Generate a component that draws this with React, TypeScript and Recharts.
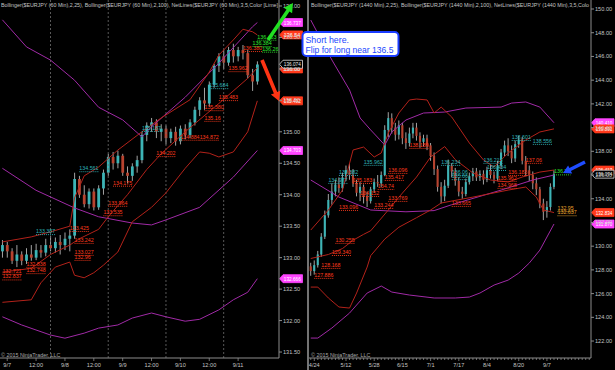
import React from "react";
import { ComposedChart, Bar, Line, XAxis, YAxis, ReferenceLine, ReferenceDot } from "recharts";

const FONT = "'Liberation Sans', Arial, sans-serif";

// ================= LEFT PANEL (60 Min) =================
// [open, high, low, close]
const leftCandles: number[][] = [
  [133.1, 133.28, 133.0, 133.2], [133.2, 133.25, 133.0, 133.1], [133.1, 133.15, 132.9, 132.95],
  [132.95, 133.2, 132.85, 133.05], [133.05, 133.1, 132.88, 132.95], [132.95, 133.15, 132.9, 133.05],
  [133.05, 133.2, 132.95, 133.0], [133.0, 133.22, 132.96, 133.12], [133.12, 133.2, 133.0, 133.08],
  [133.08, 133.3, 133.02, 133.2], [133.2, 133.35, 133.1, 133.15], [133.15, 133.32, 133.08, 133.25],
  [133.25, 133.36, 133.05, 133.2], [133.2, 133.4, 133.12, 133.3], [133.3, 133.45, 133.1, 133.35],
  [133.35, 134.35, 133.3, 134.25], [134.25, 134.3, 133.95, 134.0], [134.0, 134.15, 133.8, 133.85],
  [133.85, 134.1, 133.78, 134.05], [134.05, 134.1, 133.75, 133.8], [133.8, 134.15, 133.76, 134.1],
  [134.1, 134.4, 134.0, 134.35], [134.35, 134.65, 134.3, 134.6], [134.6, 134.68, 134.4, 134.5],
  [134.5, 134.7, 134.42, 134.62], [134.62, 134.65, 134.3, 134.35], [134.35, 134.45, 134.18, 134.3],
  [134.3, 134.5, 134.22, 134.45], [134.45, 134.62, 134.35, 134.55], [134.55, 135.0, 134.5, 134.95],
  [134.95, 135.15, 134.85, 135.1], [135.1, 135.22, 135.0, 135.15], [135.15, 135.2, 134.9, 135.0],
  [135.0, 135.12, 134.85, 135.05], [135.05, 135.1, 134.8, 134.9], [134.9, 135.05, 134.82, 135.0],
  [135.0, 135.08, 134.78, 134.85], [134.85, 135.1, 134.8, 135.05], [135.05, 135.12, 134.88, 134.95],
  [134.95, 135.2, 134.9, 135.15], [135.15, 135.4, 135.1, 135.35], [135.35, 135.55, 135.25, 135.5],
  [135.5, 135.7, 135.35, 135.45], [135.45, 135.8, 135.4, 135.75], [135.75, 136.08, 135.7, 136.05],
  [136.05, 136.25, 135.95, 136.2], [136.2, 136.3, 136.0, 136.1], [136.1, 136.35, 136.05, 136.3],
  [136.3, 136.4, 136.1, 136.2], [136.2, 136.35, 136.12, 136.3], [136.3, 136.38, 136.15, 136.25],
  [136.25, 136.3, 135.85, 135.9], [135.9, 136.0, 135.65, 135.8], [135.8, 136.12, 135.75, 136.07],
];
const leftTotal = 58;
const leftXTickIdx = [1, 7, 13, 19, 25, 31, 37, 43, 49];
const leftXTickText = ["9/7", "12:00", "9/8", "12:00", "9/9", "12:00", "9/10", "12:00", "9/11"];
const leftYTicks = [131.5, 132, 132.5, 133, 133.5, 134, 134.5, 135, 135.5, 136, 136.5, 137];
const leftSessionBreaks = [10, 22, 34, 46];
// [bar index, value]
const leftBB25Upper = [[0, 133.25], [6, 133.33], [10, 133.41], [14, 133.5], [15, 133.95], [17, 134.3], [20, 134.44], [24, 134.71], [29, 135.0], [33, 135.22], [39, 135.51], [43, 135.95], [45, 136.22], [48, 136.46], [50, 136.63], [52, 136.59], [53, 136.54]];
const leftBB25Mid = [[0, 132.77], [6, 132.83], [10, 133.05], [14, 133.2], [16, 133.3], [20, 133.45], [22, 133.65], [26, 134.0], [30, 134.4], [33, 134.65], [38, 135.0], [45, 135.45], [51, 135.85], [53, 136.02]];
const leftBB25Lower = [[0, 132.29], [6, 132.33], [8, 132.6], [11, 132.85], [14, 132.93], [15, 132.72], [17, 132.68], [19, 132.76], [21, 132.88], [24, 133.09], [27, 133.57], [31, 133.8], [34, 134.03], [38, 134.42], [41, 134.68], [43, 134.66], [45, 134.6], [48, 134.68], [51, 135.0], [53, 135.492]];
const leftBB100Upper = [[0, 136.78], [5, 136.35], [10, 136.14], [15, 135.82], [20, 135.39], [25, 135.19], [29, 134.92], [31, 135.08], [38, 135.55], [45, 136.09], [52, 136.67], [53, 136.737]];
const leftBB100Mid = [[0, 134.42], [7, 134.07], [15, 133.79], [20, 133.65], [27, 133.55], [31, 133.52], [34, 133.6], [41, 133.8], [48, 134.28], [53, 134.703]];
const leftBB100Lower = [[0, 132.06], [4, 131.93], [10, 131.77], [13, 131.72], [17, 131.8], [20, 131.88], [24, 131.93], [27, 132.04], [31, 132.12], [34, 132.06], [38, 131.99], [41, 132.02], [45, 132.17], [48, 132.33], [51, 132.45], [53, 132.666]];
// [bar index, price, text, kind]
const leftNetLabels: [number, number, string, string][] = [
  [0, 132.7, "132.837", "r"], [0, 132.79, "132.721", "r"], [5, 132.8, "132.748", "r"], [5, 132.9, "132.838", "r"],
  [7, 133.42, "133.387", "t"], [14, 133.47, "133.425", "r"], [15, 133.28, "133.242", "r"], [15, 133.09, "133.027", "r"],
  [15, 133.01, "132.96", "r"], [16, 134.42, "134.561", "t"], [21, 133.72, "133.535", "r"], [22, 133.87, "133.964", "r"],
  [23, 134.19, "134.175", "r"], [29, 135.06, "135.187", "t"], [32, 134.66, "134.202", "r"], [37, 134.92, "134.884", "r"],
  [41, 134.92, "134.872", "r"], [42, 135.22, "135.16", "r"], [42, 135.39, "135.380", "r"], [45, 135.55, "135.483", "r"],
  [43, 135.74, "135.684", "t"], [47, 136.01, "135.962", "r"], [50, 136.33, "136.380", "r"], [54, 136.32, "136.26", "g"],
  [52, 136.41, "136.384", "g"], [53, 136.51, "136.453", "g"],
];
// [value, text, kind]
const leftTags: [number, string, string][] = [
  [136.737, "136.737", "m"], [136.54, "136.54", "r"], [136.0, "136.00", "r"], [136.074, "136.074", "k"],
  [135.492, "135.492", "r"], [134.703, "134.703", "m"], [132.666, "132.666", "m"],
];

// ================= RIGHT PANEL (1440 Min) =================
const rightCandles: number[][] = [
  [128.3, 128.6, 127.5, 127.9], [127.9, 128.8, 127.6, 128.4], [128.4, 129.6, 128.2, 129.3], [129.3, 131.1, 129.1, 130.8],
  [130.8, 133.0, 130.6, 132.6], [132.6, 134.4, 132.4, 133.9], [133.9, 135.3, 133.5, 134.6], [134.6, 135.6, 134.2, 135.2],
  [135.2, 135.8, 134.5, 134.9], [134.9, 136.2, 134.6, 135.8], [135.8, 136.8, 135.5, 136.4], [136.4, 137.0, 135.6, 136.0],
  [136.0, 136.5, 135.0, 135.3], [135.3, 135.6, 134.2, 134.5], [134.5, 135.4, 133.8, 135.0], [135.0, 135.2, 133.6, 134.2],
  [134.2, 134.6, 133.3, 133.8], [133.8, 135.0, 133.6, 134.8], [134.8, 135.7, 134.5, 135.4], [135.4, 136.0, 135.0, 135.3],
  [135.3, 136.3, 135.0, 136.0], [136.0, 140.2, 135.9, 139.8], [139.8, 141.3, 139.2, 140.8], [140.8, 141.2, 139.5, 140.0],
  [140.0, 140.4, 138.9, 139.4], [139.4, 140.6, 139.0, 140.2], [140.2, 140.4, 138.6, 139.1], [139.1, 139.6, 138.2, 138.7],
  [138.7, 140.0, 138.4, 139.5], [139.5, 140.4, 139.1, 140.0], [140.0, 140.4, 138.9, 139.3], [139.3, 139.6, 138.3, 138.8],
  [138.8, 139.4, 138.4, 139.1], [139.1, 139.4, 138.1, 138.5], [138.5, 138.7, 137.2, 137.6], [137.6, 137.9, 136.0, 136.5],
  [136.5, 136.8, 134.6, 135.0], [135.0, 135.4, 133.6, 134.2], [134.2, 135.6, 133.8, 135.1], [135.1, 137.3, 134.9, 136.8],
  [136.8, 137.0, 135.8, 136.3], [136.3, 136.6, 135.1, 135.5], [135.5, 135.8, 134.2, 134.6], [134.6, 135.0, 134.0, 134.4],
  [134.4, 135.7, 134.2, 135.4], [135.4, 136.2, 135.2, 135.9], [135.9, 136.6, 135.5, 136.3], [136.3, 136.6, 135.5, 135.8],
  [135.8, 136.4, 135.5, 136.1], [136.1, 136.4, 135.2, 135.6], [135.6, 136.7, 135.4, 136.4], [136.4, 136.9, 135.7, 136.0],
  [136.0, 136.3, 135.3, 135.7], [135.7, 137.2, 135.5, 136.8], [136.8, 138.2, 136.5, 137.9], [137.9, 138.9, 137.6, 138.5],
  [138.5, 139.1, 137.6, 138.0], [138.0, 138.5, 137.0, 137.4], [137.4, 138.9, 137.1, 138.6], [138.6, 139.3, 138.3, 139.0],
  [139.0, 139.2, 136.9, 137.2], [137.2, 137.6, 135.9, 136.4], [136.4, 136.8, 135.5, 136.0], [136.0, 136.3, 134.8, 135.3],
  [135.3, 135.8, 134.3, 134.8], [134.8, 135.0, 133.2, 133.6], [133.6, 134.0, 132.2, 132.9], [132.9, 133.8, 132.4, 133.3],
  [133.3, 135.3, 133.0, 135.0], [135.0, 136.4, 134.8, 136.07],
];
const rightTotal = 80;
const rightXTickIdx = [1, 10, 18, 26, 34, 42, 50, 59, 67];
const rightXTickText = ["4/24", "5/12", "5/28", "6/15", "7/1", "7/17", "8/4", "8/20", "9/7"];
const rightYTicks = [122, 124, 126, 128, 130, 132, 134, 136, 138, 140, 142, 144, 146, 148, 150];
const rightBB25Upper = [[0, 131.36], [5, 133.05], [9, 134.73], [12, 138.11], [15, 138.36], [18, 137.52], [20, 137.86], [22, 139.54], [25, 141.23], [28, 142.33], [30, 142.41], [33, 142.33], [35, 141.23], [37, 141.73], [40, 140.89], [45, 138.7], [49, 137.27], [52, 136.67], [56, 137.86], [61, 138.95], [65, 139.63], [69, 139.891]];
const rightBB25Mid = [[0, 128.96], [5, 129.3], [9, 129.8], [12, 130.5], [15, 131.0], [17, 131.3], [22, 133.05], [26, 134.48], [30, 135.83], [34, 137.52], [38, 138.4], [41, 137.3], [46, 136.17], [51, 135.58], [56, 135.41], [60, 135.83], [65, 136.25], [69, 136.42]];
const rightBB25Lower = [[0, 126.55], [2, 126.55], [5, 125.63], [8, 124.87], [11, 124.78], [13, 126.05], [16, 128.24], [17, 129.2], [21, 130.6], [25, 131.6], [30, 132.4], [34, 133.05], [37, 133.64], [46, 134.14], [56, 134.73], [61, 134.99], [64, 134.14], [66, 133.05], [69, 132.834]];
const rightBB100Upper = [[0, 149.07], [6, 145.7], [11, 143.17], [14, 140.81], [17, 139.8], [21, 138.53], [23, 139.63], [27, 140.64], [32, 141.23], [38, 141.31], [44, 141.65], [54, 141.73], [57, 142.07], [61, 142.16], [65, 141.73], [69, 140.41]];
const rightBB100Mid = [[0, 135.58], [8, 134.14], [17, 133.05], [27, 132.9], [35, 133.0], [40, 133.5], [54, 134.73], [63, 135.58], [69, 136.0]];
const rightBB100Lower = [[0, 122.25], [2, 122.25], [6, 123.1], [11, 124.36], [16, 126.05], [20, 126.64], [23, 126.13], [28, 125.88], [35, 125.63], [41, 125.63], [45, 125.71], [48, 126.05], [52, 126.72], [56, 127.14], [59, 127.73], [62, 128.58], [65, 129.67], [69, 131.87]];
const rightNetLabels: [number, number, string, string][] = [
  [1, 127.57, "127.886", "r"], [3, 128.41, "128.168", "r"], [6, 129.5, "129.340", "r"], [7, 130.52, "130.255", "r"],
  [5, 135.58, "134.977", "t"], [8, 136.25, "135.382", "t"], [15, 137.1, "135.962", "t"], [12, 135.58, "135.183", "r"],
  [14, 134.48, "134.152", "r"], [8, 133.3, "133.096", "r"], [18, 133.47, "133.244", "r"], [19, 135.07, "134.74", "r"],
  [21, 135.83, "135.417", "r"], [22, 136.42, "136.096", "r"], [22, 134.06, "133.769", "r"], [28, 138.53, "138.189", "r"],
  [37, 137.1, "136.234", "t"], [40, 136.25, "136.06", "t"], [40, 135.9, "135.66", "t"], [40, 133.64, "133.665", "r"],
  [49, 137.27, "136.215", "t"], [50, 136.67, "136.434", "t"], [53, 135.75, "135.962", "r"], [53, 135.16, "134.968", "r"],
  [56, 136.25, "136.183", "r"], [57, 139.2, "138.601", "t"], [61, 137.27, "137.06", "r"], [63, 138.87, "138.556", "t"],
  [69, 136.3, "136.79", "g"], [70, 133.2, "132.95", "o"], [70, 132.85, "132.637", "o"],
];
const rightTags: [number, string, string][] = [
  [140.41, "140.410", "m"], [139.891, "139.891", "r"], [136.417, "136.417", "r"], [136.074, "136.074", "k"],
  [132.834, "132.834", "r"], [131.87, "131.870", "m"],
];

// ================= STYLE =================
const UP = "#3db4b6";
const DOWN = "#b8432f";
const WICK = "#b4b4b4";
const RED_BAND = "#b3221a";
const PURPLE = "#a02aa6";
const AXIS = "#8c8c8c";
const TEXT = "#c4c4c4";
const NET_COLORS: Record<string, string> = { r: "#ff3a1c", t: "#2fb3b8", g: "#2ee82e", o: "#e7a02c" };
const TAG_STYLE: Record<string, { bg: string; fg: string; border: string }> = {
  m: { bg: "#ff45ff", fg: "#ffffff", border: "#ff45ff" },
  r: { bg: "#ff3a1c", fg: "#ffffff", border: "#ff3a1c" },
  k: { bg: "#000000", fg: "#e6e6e6", border: "#dddddd" },
};

function buildRows(candles: number[][], total: number, bands: Record<string, number[][]>) {
  const rows: any[] = [];
  for (let i = 0; i < total; i++) {
    const row: any = { i };
    const c = candles[i];
    if (c) {
      row.o = c[0]; row.h = c[1]; row.l = c[2]; row.c = c[3];
      row.range = [c[2], c[1]];
    }
    rows.push(row);
  }
  Object.keys(bands).forEach((k) => {
    bands[k].forEach(([idx, v]) => { rows[idx][k] = v; });
  });
  return rows;
}

const leftRows = buildRows(leftCandles, leftTotal, {
  u25: leftBB25Upper, m25: leftBB25Mid, l25: leftBB25Lower,
  u100: leftBB100Upper, m100: leftBB100Mid, l100: leftBB100Lower,
});
const rightRows = buildRows(rightCandles, rightTotal, {
  u25: rightBB25Upper, m25: rightBB25Mid, l25: rightBB25Lower,
  u100: rightBB100Upper, m100: rightBB100Mid, l100: rightBB100Lower,
});

const makeCandle = (bodyW: number) => (props: any) => {
  const { x, y, width, height, payload } = props;
  if (!payload || payload.o == null || x == null) return <g />;
  const { o, h, l, c } = payload;
  const top = Math.min(y, y + height);
  const bot = Math.max(y, y + height);
  const span = h - l || 1;
  const py = (v: number) => top + ((h - v) / span) * (bot - top);
  const cx = x + width / 2;
  const yo = py(o), yc = py(c);
  const bt = Math.min(yo, yc);
  const bh = Math.max(1, Math.abs(yo - yc));
  return (
    <g>
      <line x1={cx} x2={cx} y1={top} y2={bot} stroke={WICK} strokeWidth={0.9} />
      <rect x={cx - bodyW / 2} y={bt} width={bodyW} height={bh} fill={c >= o ? UP : DOWN} />
    </g>
  );
};

const makeXTick = (idxs: number[], texts: string[], minor: boolean) => (props: any) => {
  const { x, y, payload } = props;
  const k = idxs.indexOf(payload.value);
  if (k < 0 && !minor) return <g />;
  return (
    <g>
      <line x1={x} x2={x} y1={y} y2={y + (k >= 0 ? 3 : 2)} stroke={AXIS} strokeWidth={0.8} />
      {k >= 0 && (
        <text x={x} y={y + 9} textAnchor="middle" fontSize={5.6} fill={TEXT} fontFamily={FONT}>
          {texts[k]}
        </text>
      )}
    </g>
  );
};

const netShape = (text: string, color: string) => (p: any) => {
  const { cx, cy } = p;
  if (cx == null || cy == null) return <g />;
  const w = text.length * 2.75;
  return (
    <g>
      <text x={cx} y={cy + 1.8} fontSize={5.3} fill={color} fontFamily={FONT}>{text}</text>
      <line x1={cx} x2={cx + w} y1={cy + 3.4} y2={cy + 3.4} stroke={color} strokeWidth={0.9} strokeDasharray="1 1" />
    </g>
  );
};

const TagLabel = (props: any) => {
  const { viewBox, text, kind, w } = props;
  if (!viewBox) return null;
  const st = TAG_STYLE[kind];
  const x = viewBox.x + viewBox.width + 0.5;
  const y = viewBox.y;
  const hh = 4;
  return (
    <g>
      <path d={`M${x},${y} L${x + 3.5},${y - hh} L${x + w},${y - hh} L${x + w},${y + hh} L${x + 3.5},${y + hh} Z`}
        fill={st.bg} stroke={st.border} strokeWidth={0.8} />
      <text x={x + 4.3} y={y + 2} fontSize={5.4} fill={st.fg} fontFamily={FONT}
        textLength={text.length >= 7 ? w - 6 : undefined} lengthAdjust="spacingAndGlyphs">{text}</text>
    </g>
  );
};

function Panel(props: any) {
  const { rows, width, marginLeft, yWidth, domain, yTicks, xIdx, xText, minor, breaks, net, tags, bodyW, tagW } = props;
  const lineProps = { dot: false, activeDot: false, connectNulls: true, strokeWidth: 1, isAnimationActive: false } as any;
  return (
    <ComposedChart width={width} height={370} data={rows} margin={{ top: 0, right: 0, bottom: 0, left: marginLeft }} barCategoryGap="20%">
      <XAxis dataKey="i" type="category" interval={0} height={12} tickSize={0} tickMargin={0}
        tickLine={false} axisLine={{ stroke: AXIS }} tick={makeXTick(xIdx, xText, minor)} />
      <YAxis orientation="right" width={yWidth} domain={domain} ticks={yTicks} allowDataOverflow type="number"
        tickSize={3} tickMargin={1} tickLine={{ stroke: AXIS }} axisLine={{ stroke: AXIS }}
        tick={{ fill: TEXT, fontSize: 5.6, fontFamily: FONT, textAnchor: "start" }}
        tickFormatter={(v: number) => v.toFixed(2)} />
      {breaks.map((b: number) => (
        <ReferenceLine key={"b" + b} x={b} stroke="#6e6e6e" strokeDasharray="2 2" strokeWidth={0.8} />
      ))}
      <Bar dataKey="range" shape={makeCandle(bodyW)} isAnimationActive={false} activeBar={false} />
      <Line dataKey="u100" stroke={PURPLE} {...lineProps} />
      <Line dataKey="m100" stroke={PURPLE} {...lineProps} />
      <Line dataKey="l100" stroke={PURPLE} {...lineProps} />
      <Line dataKey="u25" stroke={RED_BAND} {...lineProps} />
      <Line dataKey="m25" stroke={RED_BAND} {...lineProps} />
      <Line dataKey="l25" stroke={RED_BAND} {...lineProps} />
      {net.map((n: [number, number, string, string], k: number) => (
        <ReferenceDot key={"n" + k} x={n[0]} y={n[1]} r={0} ifOverflow="visible"
          shape={netShape(n[2], NET_COLORS[n[3]])} />
      ))}
      {tags.map((t: [number, string, string], k: number) => (
        <ReferenceLine key={"t" + k} y={t[0]} stroke="none" ifOverflow="visible"
          label={<TagLabel text={t[1]} kind={t[2]} w={tagW} />} />
      ))}
    </ComposedChart>
  );
}

function arrow(x1: number, y1: number, x2: number, y2: number, w: number, hl: number, hw: number) {
  const dx = x2 - x1, dy = y2 - y1;
  const len = Math.sqrt(dx * dx + dy * dy);
  const ux = dx / len, uy = dy / len;
  const nx = -uy, ny = ux;
  const bx = x2 - ux * hl, by = y2 - uy * hl;
  const pts = [
    [x1 + nx * w / 2, y1 + ny * w / 2], [bx + nx * w / 2, by + ny * w / 2], [bx + nx * hw / 2, by + ny * hw / 2],
    [x2, y2], [bx - nx * hw / 2, by - ny * hw / 2], [bx - nx * w / 2, by - ny * w / 2], [x1 - nx * w / 2, y1 - ny * w / 2],
  ];
  return pts.map((p) => p[0].toFixed(1) + "," + p[1].toFixed(1)).join(" ");
}

const leftHeader = "Bollinger($EURJPY (60 Min),2,25), Bollinger($EURJPY (60 Min),2,100), NetLines($EURJPY (60 Min),3,5,Color [Lime]";
const rightHeader = "Bollinger($EURJPY (1440 Min),2,25), Bollinger($EURJPY (1440 Min),2,100), NetLines($EURJPY (1440 Min),3,5,Colo";
const copyright = "© 2015 NinjaTrader, LLC";
const noteLine1 = "Short here.";
const noteLine2 = "Flip for long near 136.5";

export default function App() {
  return (
    <div style={{ position: "absolute", left: 0, top: 0, width: 615, height: 370, background: "#000", overflow: "hidden" }}>
      <div style={{ position: "absolute", left: 0, top: 0 }}>
        <Panel rows={leftRows} width={308} marginLeft={0} yWidth={29} domain={[131.405, 137.095]} yTicks={leftYTicks}
          xIdx={leftXTickIdx} xText={leftXTickText} minor={false} breaks={leftSessionBreaks} net={leftNetLabels}
          tags={leftTags} bodyW={2.8} tagW={23} />
      </div>
      <div style={{ position: "absolute", left: 308, top: 0 }}>
        <Panel rows={rightRows} width={307} marginLeft={1} yWidth={24} domain={[120.57, 150.76]} yTicks={rightYTicks}
          xIdx={rightXTickIdx} xText={rightXTickText} minor={true} breaks={[]} net={rightNetLabels}
          tags={rightTags} bodyW={2.1} tagW={22.5} />
      </div>
      <svg width={615} height={370} style={{ position: "absolute", left: 0, top: 0, pointerEvents: "none" }}>
        <line x1={308} x2={308} y1={0} y2={370} stroke="#9a9a9a" strokeWidth={1.5} />
        <text x={1} y={7} fontSize={5.6} fill={TEXT} fontFamily={FONT} textLength={277} lengthAdjust="spacingAndGlyphs">{leftHeader}</text>
        <text x={311} y={7} fontSize={5.6} fill={TEXT} fontFamily={FONT} textLength={278} lengthAdjust="spacingAndGlyphs">{rightHeader}</text>
        <text x={1} y={357} fontSize={5.4} fill="#a8a8a8" fontFamily={FONT}>{copyright}</text>
        <text x={311} y={357} fontSize={5.4} fill="#a8a8a8" fontFamily={FONT}>{copyright}</text>
        <polygon points={arrow(268, 40, 293, 3, 3.6, 9, 10)} fill="#22e022" />
        <polygon points={arrow(262, 60, 279, 101, 3.6, 9, 10)} fill="#ff3414" />
        <polygon points={arrow(585, 162, 563, 173, 3.4, 8, 9)} fill="#1f4dff" />
        <rect x={302.5} y={32} width={96} height={24} rx={4} fill="#ffffff" stroke="#1a3cff" strokeWidth={2} />
        <text x={305.5} y={42.5} fontSize={8.8} fill="#2147ff" fontFamily={FONT}>{noteLine1}</text>
        <text x={305.5} y={53} fontSize={8.8} fill="#2147ff" fontFamily={FONT} textLength={88} lengthAdjust="spacingAndGlyphs">{noteLine2}</text>
      </svg>
    </div>
  );
}
